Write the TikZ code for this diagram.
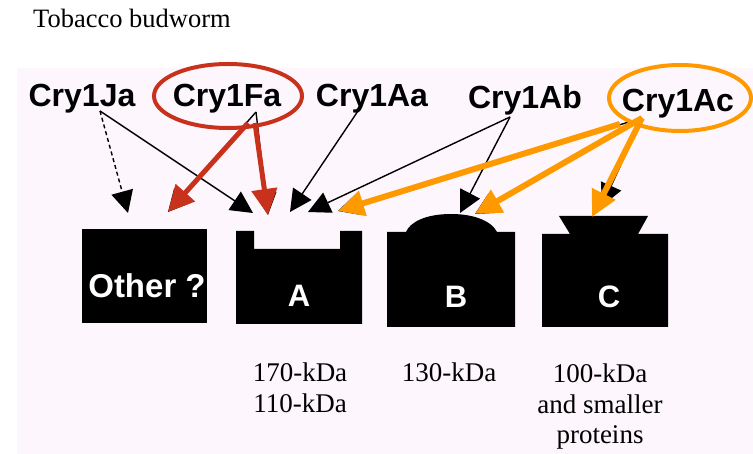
\documentclass[tikz,border=0pt]{standalone}
\usepackage{fontspec}
\setmainfont{Liberation Serif}
\newfontfamily\hv{Liberation Sans}
\usetikzlibrary{arrows.meta}
\definecolor{panel}{RGB}{253,247,253}
\definecolor{cryred}{RGB}{200,50,28}
\definecolor{cryorange}{RGB}{255,153,0}
\begin{document}
\begin{tikzpicture}[x=1pt,y=-1pt,
  lab/.style={font=\hv\bfseries\fontsize{32}{36}\selectfont, anchor=base, inner sep=0pt},
  boxtext/.style={font=\hv\bfseries\fontsize{31}{36}\selectfont, text=white, anchor=base, inner sep=0pt},
  kda/.style={font=\fontsize{27}{31}\selectfont, align=center, anchor=base, inner sep=0pt},
  site/.style={fill=black},
  blk/.style={draw=black, line width=1.4pt, -{Triangle[length=22pt,width=22pt]}},
  blkdash/.style={blk, dash pattern=on 4pt off 3pt},
  redarr/.style={draw=cryred, line width=5pt, -{Triangle[length=26pt,width=25pt]}},
  orarr/.style={draw=cryorange, line width=6pt, -{Triangle[length=26pt,width=25pt]}},
  ring/.style={line width=4pt}
]
\useasboundingbox (0,0) rectangle (753,454);
\fill[white] (0,0) rectangle (753,454);
\fill[panel] (17,68) rectangle (753,454);

% title
\node[font=\fontsize{26.5}{30}\selectfont, anchor=base west, inner sep=0pt] (title) at (33,28) {Tobacco budworm};

% receptor sites
\fill[site] (82,229) rectangle (207,323);
\fill[site] (236,231) -- (254,231) -- (254,249) -- (340,249) -- (340,231) -- (362,231) -- (362,324) -- (236,324) -- cycle;
\fill[site] (387,232) -- (406,232) .. controls (410,222) and (426,214) .. (451,214) .. controls (476,214) and (492,222) .. (497,232) -- (515,232) -- (515,327) -- (387,327) -- cycle;
\fill[site] (542,234) -- (570,234) -- (559,216) -- (648,216) -- (638,234) -- (668,234) -- (668,327) -- (542,327) -- cycle;

\node[boxtext, font=\hv\bfseries\fontsize{33}{36}\selectfont] (other) at (147,298) {Other ?};
\node[boxtext] (A) at (299,307) {A};
\node[boxtext] (B) at (456,308) {B};
\node[boxtext] (C) at (609,308) {C};

% coordinates
\coordinate (ja0) at (100,111);
\coordinate (fa0) at (256,112);
\coordinate (fa1) at (248,123);
\coordinate (fa2) at (255,123);
\coordinate (aa0) at (358,111);
\coordinate (ab0) at (510,117);
\coordinate (ac0) at (642,118);
\coordinate (ac1) at (620,124);
\coordinate (tOther) at (128,213);
\coordinate (tOtherR) at (168,212);
\coordinate (tA1) at (253,213);
\coordinate (tA2) at (268,215);
\coordinate (tA3) at (290,212);
\coordinate (tA4) at (308,212);
\coordinate (tA5) at (338,211);
\coordinate (tB1) at (460,213);
\coordinate (tB2) at (475,214);
\coordinate (tC) at (592,217);
\coordinate (tCb) at (602,206);

% black arrows
\draw[blkdash] (ja0) -- (tOther);
\draw[blk] (ja0) -- (tA1);
\draw[blk] (fa0) -- (tOtherR);
\draw[blk] (fa0) -- (tA2);
\draw[blk] (aa0) -- (tA3);
\draw[blk] (ab0) -- (tA4);
\draw[blk] (ab0) -- (tB1);
\draw[blk] (ac0) -- (tA5);
\draw[blk] (ac0) -- (tB2);
\draw[blk] (ac0) -- (tCb);

% highlighted arrows
\draw[redarr] (fa1) -- (tOtherR);
\draw[redarr] (fa2) -- (tA2);
\draw[orarr] (ac1) -- (tA5);
\draw[orarr] (ac0) -- (tB2);
\draw[orarr] (ac0) -- (tC);

% labels
\node[lab] (ja) at (82,107) {Cry1Ja};
\node[lab] (fa) at (227,107) {Cry1Fa};
\node[lab] (aa) at (372,107) {Cry1Aa};
\node[lab] (ab) at (525,109) {Cry1Ab};
\node[lab] (ac) at (678,112) {Cry1Ac};

\draw[ring, draw=cryred] (228,96) ellipse [x radius=74, y radius=32];
\draw[ring, draw=cryorange] (680,98) ellipse [x radius=71, y radius=33];

% sizes
\node[kda] (kA) at (300,413) {170-kDa\\110-kDa};
\node[kda] (kB) at (449,382) {130-kDa};
\node[kda] (kC) at (600,444) {100-kDa\\and smaller\\proteins};
\end{tikzpicture}
\end{document}
